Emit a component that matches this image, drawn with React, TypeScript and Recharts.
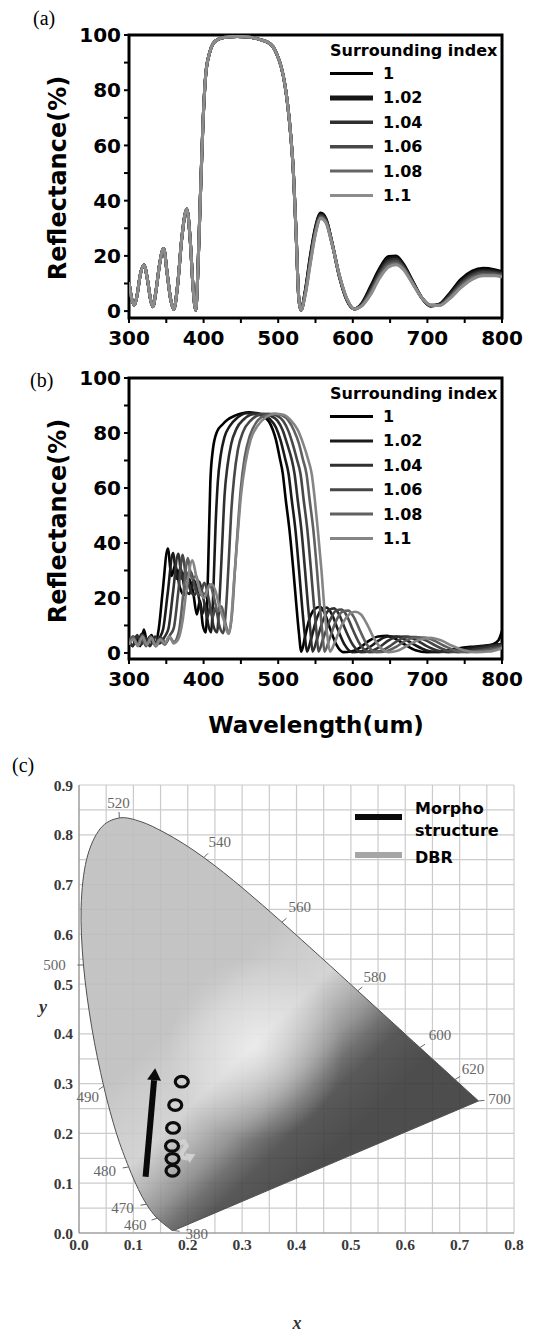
import React from 'react';
import { LineChart, Line, XAxis, YAxis, ReferenceArea, ScatterChart, Scatter, CartesianGrid } from 'recharts';

const SANS = '"DejaVu Sans", Arial, sans-serif';
const SERIF = '"Liberation Serif", "Times New Roman", serif';

const surroundIdx = ['1', '1.02', '1.04', '1.06', '1.08', '1.1'];
const waveTicks = [300, 350, 400, 450, 500, 550, 600, 650, 700, 750, 800];
const reflTicks = [0, 10, 20, 30, 40, 50, 60, 70, 80, 90, 100];

// (a) Morpho structure: left part is the same for every surrounding index
const aLeftX = [300, 304, 307.5, 311, 315, 320, 325, 329, 332, 336, 341, 346.5, 351, 356, 360, 365, 371, 377.5, 382, 386, 389.5, 392, 395, 399, 403, 408, 413, 420, 430, 445, 460, 475, 485, 493, 499, 504, 509, 513, 517, 520, 524, 527.5, 530.5];
const aLeftY = [10.5, 4, 2.2, 6, 13, 16.7, 11, 4, 1.6, 7, 17, 22.7, 14, 4, 0.6, 9, 27, 37, 26, 8, 0.3, 12, 36, 67, 86, 93.5, 97, 98.5, 99.2, 99.5, 99.3, 98.4, 97.5, 95.8, 92.5, 88.5, 82, 74, 63, 52, 28, 5, 0.3];
const aRightX = [536, 543, 550, 557, 564, 572, 582, 592, 602, 612, 624, 636, 648, 658, 668, 680, 692, 704, 716, 730, 745, 760, 775, 790, 800];
const aRight100 = [7, 20, 30.5, 35.5, 33.5, 25, 12.5, 4, 0.8, 2.8, 9, 15.5, 19.8, 20, 17, 11, 5, 1.8, 2.5, 6.5, 11.5, 14.5, 15.5, 15, 14.3];
const aRight102 = [6.7, 19.4, 30, 35.1, 33.2, 24.9, 12.6, 4.1, 0.8, 2.6, 8.4, 14.8, 19.1, 19.4, 16.6, 10.8, 5, 1.9, 2.4, 6.1, 10.9, 13.9, 14.9, 14.6, 13.9];
const aRight104 = [6.4, 18.8, 29.5, 34.7, 32.9, 24.8, 12.7, 4.2, 0.8, 2.4, 7.8, 14.1, 18.3, 18.8, 16.2, 10.6, 5, 2, 2.3, 5.7, 10.3, 13.3, 14.4, 14.1, 13.5];
const aRight106 = [6.1, 18.2, 29, 34.3, 32.6, 24.7, 12.8, 4.3, 0.8, 2.2, 7.2, 13.4, 17.5, 18.1, 15.8, 10.4, 5, 2.1, 2.2, 5.3, 9.7, 12.7, 13.9, 13.6, 13.1];
const aRight108 = [5.8, 17.6, 28.5, 33.9, 32.3, 24.6, 12.9, 4.4, 0.8, 2, 6.6, 12.7, 16.7, 17.4, 15.4, 10.2, 5, 2.15, 2.1, 4.9, 9.1, 12.1, 13.3, 13.2, 12.7];
const aRight110 = [5.5, 17, 28, 33.5, 32, 24.5, 13, 4.5, 0.8, 1.8, 6, 12, 16, 16.8, 15, 10, 5, 2.2, 2, 4.5, 8.5, 11.5, 12.8, 12.8, 12.3];

// (b) DBR: [wavelength, reflectance]
const b100 = [[300,4.5],[305,2.5],[310,6],[315,2.5],[320,8.5],[325,3],[330,6.5],[335,3.5],[340,9],[345,22],[352,38],[357,28],[362,32],[368,24],[374,21],[380,27],[386,22],[391,14],[395,19],[399,10],[403,7.5],[406,30],[409,62],[412,73],[418,80.5],[425,83],[432,84.8],[442,86.3],[452,87.2],[461,87.5],[470,87],[480,86],[488,84],[493,81],[497,77.5],[502,71],[506,65.5],[510,56],[515,45],[520,31],[524,18.5],[527.5,8],[531,0.5],[536,6],[542,12.5],[549,16],[556,16.8],[563,14],[570,8.5],[578,3],[587,0.3],[598,0.5],[610,2],[622,4.5],[634,6],[646,6.2],[658,5],[670,3],[684,1],[700,0.3],[718,0.6],[738,1.5],[758,2.2],[775,2.6],[788,3.2],[795,4.5],[800,8]];
const b102 = [[300,3.5],[306,6],[311,3],[317,7],[322,3],[328,6],[334,3.5],[341,5.5],[346,9],[352,22],[359,36.3],[364,27],[369,31],[375,23],[381,21.5],[387,26.5],[393,21],[398,14],[402,18],[406,10.5],[410,7.5],[413,22],[416,46],[419,62],[423,72],[428,78.5],[435,82.5],[445,85.5],[457,87.2],[468,87.3],[479,86.6],[489,85],[497,82],[503,77.5],[509,71],[514,65],[518,56],[523,45],[528,30],[532,17],[535.5,7],[538.5,0.5],[544,5],[551,12],[558,15.8],[565,16.5],[572,14],[580,8.5],[589,3],[599,0.3],[611,0.6],[623,2.2],[635,4.6],[647,6],[659,6],[671,4.8],[684,2.8],[698,1],[714,0.3],[733,0.7],[753,1.6],[773,2.4],[790,3],[800,3.2]];
const b104 = [[300,5],[305,2.5],[311,6.5],[316,3],[322,5.5],[328,2.5],[335,6],[341,3.5],[348,6],[353,9],[359,22],[366,36.1],[371,27],[376,30],[382,23],[388,21],[394,26],[400,19.5],[405,13],[409,17],[413,10],[418,7.5],[421,18],[425,40],[428,57],[432,68],[437,76],[444,81.5],[454,85],[466,86.8],[478,87],[489,86.3],[499,84.5],[506,81],[512,76],[518,70.5],[522,65],[526,56],[531,45],[536,30],[540,17],[543.5,7],[546,0.5],[552,5],[560,11.8],[568,15.6],[575,16.2],[582,13.8],[590,8.5],[600,3],[611,0.3],[623,0.6],[636,2.2],[648,4.6],[660,5.9],[672,6],[684,4.8],[697,2.8],[712,1],[728,0.3],[748,0.7],[768,1.6],[788,2.5],[800,3]];
const b106 = [[300,3],[306,5.5],[312,3],[318,6.5],[324,3],[330,5],[336,2.5],[343,5.5],[349,3.5],[355,6.5],[360,9],[366,22],[372,35.7],[377,27],[383,29.5],[389,23],[395,21],[401,25.5],[407,19.5],[412,13],[416,16.5],[421,10],[426,7.2],[430,16],[434,35],[437,51],[441,64],[446,74],[453,80.5],[463,84.5],[475,86.6],[487,87],[498,86.3],[507,84.3],[514,80.5],[520,75.5],[525,70.5],[530,65],[534,56],[539,45],[544,30],[548,17],[551.5,7],[554,0.5],[560,5],[569,11.6],[577,15.3],[585,15.8],[592,13.5],[600,8.5],[610,3],[622,0.3],[635,0.6],[648,2.2],[661,4.6],[673,5.8],[685,5.8],[697,4.7],[710,2.8],[725,1],[741,0.3],[762,0.7],[782,1.5],[800,2.5]];
const b108 = [[300,4],[305,6],[311,3],[317,5.5],[323,2.5],[329,6],[335,3],[341,5],[348,3],[354,6],[360,4],[367,8],[373,22],[379,34.5],[384,27],[390,28],[396,22],[402,21.5],[408,25],[414,20],[419,15],[424,17],[429,11],[434,7],[438,14],[442,30],[446,46],[450,60],[455,71],[462,79],[471,84],[483,86.4],[495,87],[505,86.4],[514,84.4],[521,81],[528,76],[533,70.5],[538,65],[542,56],[547,45],[552,30],[556,16.5],[559.5,6.5],[562,0.5],[568,4.5],[577,11.3],[586,15],[594,15.4],[601,13.2],[609,8.5],[619,3],[632,0.3],[645,0.6],[658,2.2],[671,4.5],[684,5.6],[696,5.6],[708,4.6],[721,2.8],[736,1],[753,0.3],[776,0.8],[800,2]];
const b110 = [[300,3],[306,5],[312,2.5],[318,6],[324,3],[330,5.5],[336,2.5],[342,5],[348,3.5],[354,6],[360,3.5],[366,5],[372,12],[378,25],[385,33.7],[390,28],[396,22],[401,20],[406,23.5],[411,25],[416,22.5],[421,17],[427,12],[433,7],[437,12],[441,27],[446,44],[450,57],[456,69],[463,77.5],[472,82.5],[484,85.8],[496,87],[507,86.6],[517,84.6],[526,81.2],[533,76.5],[540,70.5],[545,65],[549,56],[553,45],[558,30],[562,16],[566,6],[569.5,0.5],[576,4],[585,10],[595,14],[603,15],[611,14],[619,10.5],[629,5],[639,1.5],[648,0.3],[660,0.8],[674,2.8],[689,4.8],[704,5.5],[718,4.6],[733,2.6],[749,1],[765,0.3],[782,0.5],[800,1.8]];

// (c) CIE 1931 spectral locus, [wavelength, x, y]
const locus = [
  [380, 0.1741, 0.005], [400, 0.1733, 0.0048], [420, 0.1714, 0.0051], [430, 0.1689, 0.0069], [440, 0.1644, 0.0109],
  [450, 0.1566, 0.0177], [455, 0.151, 0.0227], [460, 0.144, 0.0297], [465, 0.1355, 0.0399], [470, 0.1241, 0.0578],
  [475, 0.1096, 0.0868], [480, 0.0913, 0.1327], [485, 0.0687, 0.2007], [490, 0.0454, 0.295], [495, 0.0235, 0.4127],
  [500, 0.0082, 0.5384], [505, 0.0039, 0.6548], [510, 0.0139, 0.7502], [515, 0.0389, 0.812], [520, 0.0743, 0.8338],
  [525, 0.1142, 0.8262], [530, 0.1547, 0.8059], [535, 0.1929, 0.7816], [540, 0.2296, 0.7543], [545, 0.2658, 0.7243],
  [550, 0.3016, 0.6923], [555, 0.3373, 0.6589], [560, 0.3731, 0.6245], [565, 0.4087, 0.5896], [570, 0.4441, 0.5547],
  [575, 0.4788, 0.5202], [580, 0.5125, 0.4866], [585, 0.5448, 0.4544], [590, 0.5752, 0.4242], [595, 0.6029, 0.3965],
  [600, 0.627, 0.3725], [605, 0.6482, 0.3514], [610, 0.6658, 0.334], [620, 0.6915, 0.3083], [630, 0.7079, 0.292],
  [640, 0.719, 0.2809], [650, 0.726, 0.274], [660, 0.73, 0.27], [680, 0.7334, 0.2666], [700, 0.7347, 0.2653],
];
const locusLabelled = [380, 460, 470, 480, 490, 500, 520, 540, 560, 580, 600, 620, 700];
const morphoX = [0.189, 0.177, 0.173, 0.171, 0.172, 0.172];
const morphoY = [0.304, 0.257, 0.211, 0.175, 0.149, 0.125];
const morphoArrow = [[0.1225, 0.113], [0.14, 0.331]];
const dbrTrail = [[0.183, 0.18], [0.193, 0.184], [0.198, 0.175], [0.19, 0.163], [0.187, 0.153], [0.199, 0.15], [0.214, 0.158]];
const cieTicksX = [0, 0.05, 0.1, 0.15, 0.2, 0.25, 0.3, 0.35, 0.4, 0.45, 0.5, 0.55, 0.6, 0.65, 0.7, 0.75, 0.8];
const cieTicksY = [0, 0.05, 0.1, 0.15, 0.2, 0.25, 0.3, 0.35, 0.4, 0.45, 0.5, 0.55, 0.6, 0.65, 0.7, 0.75, 0.8, 0.85, 0.9];

// styles
const aColors = ['#000000', '#161616', '#2f2f2f', '#484848', '#646464', '#8c8c8c'];
const bColors = ['#000000', '#1a1a1a', '#303030', '#474747', '#606060', '#858585'];
const aLegendWidth = [3, 5, 3.5, 3.5, 3, 3];
const waveLabelOffset: Record<number, [number, number]> = {
  520: [-1, -15], 540: [16, -16], 560: [18, -15], 580: [17, -14], 600: [20, -13], 620: [18, -11], 700: [21, -2],
  500: [-29, 0], 490: [-16, 11], 480: [-24, 4], 470: [-24, 4], 460: [-22, 7], 380: [23, 3],
};

const aSeries = [aRight100, aRight102, aRight104, aRight106, aRight108, aRight110].map((right) => [
  ...aLeftX.map((x, i) => ({ x, y: aLeftY[i] })),
  ...aRightX.map((x, i) => ({ x, y: right[i] })),
]);
const bSeries = [b100, b102, b104, b106, b108, b110].map((s) => s.map(([x, y]) => ({ x, y })));
const locusPts = locus.map(([wl, x, y]) => ({ wl, x, y }));
const locusMarks = locusPts.filter((p) => locusLabelled.includes(p.wl));
const morphoPts = morphoX.map((x, i) => ({ x, y: morphoY[i] }));
const morphoArrowPts = morphoArrow.map(([x, y]) => ({ x, y }));
const dbrPts = dbrTrail.map(([x, y]) => ({ x, y }));

const hundreds = (v: number) => (v % 100 === 0 ? String(v) : '');
const twenties = (v: number) => (v % 20 === 0 ? String(v) : '');
const tenths = (v: number) => {
  const k = Math.round(v * 100);
  return k % 10 === 0 ? (k / 100).toFixed(1) : '';
};
const noMark = () => <g />;

const tickStyle = { fill: '#000', fontSize: 20, fontWeight: 700, fontFamily: SANS };
const cieTick = { fill: '#3a3a3a', fontSize: 15.5, fontWeight: 700, fontFamily: SERIF };

function smoothPath(pts: { x: number; y: number }[]) {
  let d = `M${pts[0].x},${pts[0].y}`;
  for (let i = 0; i < pts.length - 1; i++) {
    const p0 = pts[i - 1] || pts[i];
    const p1 = pts[i];
    const p2 = pts[i + 1];
    const p3 = pts[i + 2] || p2;
    const c1x = p1.x + (p2.x - p0.x) / 6;
    const c1y = p1.y + (p2.y - p0.y) / 6;
    const c2x = p2.x - (p3.x - p1.x) / 6;
    const c2y = p2.y - (p3.y - p1.y) / 6;
    d += ` C${c1x},${c1y} ${c2x},${c2y} ${p2.x},${p2.y}`;
  }
  return d + ' Z';
}

function LocusFill(props: any) {
  const pts = props.points || [];
  if (pts.length < 3) return null;
  const d = smoothPath(pts);
  return (
    <g>
      <path d={d} fill="url(#cieShade)" fillOpacity={0.9} stroke="none" />
      <path d={d} fill="url(#cieGlow)" stroke="#505050" strokeWidth={1} />
    </g>
  );
}

function ArrowPath(props: any) {
  const pts = props.points || [];
  if (pts.length < 2) return null;
  const a = pts[pts.length - 2];
  const b = pts[pts.length - 1];
  const len = Math.hypot(b.x - a.x, b.y - a.y) || 1;
  const ux = (b.x - a.x) / len;
  const uy = (b.y - a.y) / len;
  const h = props.head;
  const hw = props.head * 0.58;
  const bx = b.x - ux * h;
  const by = b.y - uy * h;
  const d = pts.slice(0, -1).map((p: any, i: number) => `${i ? 'L' : 'M'}${p.x},${p.y}`).join(' ') + ` L${bx},${by}`;
  return (
    <g opacity={props.alpha ?? 1}>
      <path d={d} fill="none" stroke={props.paint} strokeWidth={props.weight} strokeLinejoin="round" />
      <path d={`M${b.x},${b.y} L${bx - uy * hw},${by + ux * hw} L${bx + uy * hw},${by - ux * hw} Z`} fill={props.paint} />
    </g>
  );
}

function WaveMark(props: any) {
  const { cx, cy, payload } = props;
  const off = waveLabelOffset[payload?.wl];
  if (!off || cx == null) return <g />;
  const [dx, dy] = off;
  const len = Math.hypot(dx, dy);
  return (
    <g>
      <line x1={cx} y1={cy} x2={cx + (dx / len) * 6} y2={cy + (dy / len) * 6} stroke="#666" strokeWidth={1} />
      <text x={cx + dx} y={cy + dy} textAnchor="middle" dominantBaseline="central" fontFamily={SERIF} fontSize={15} fill="#666">
        {payload.wl}
      </text>
    </g>
  );
}

function Ring(props: any) {
  const { cx, cy } = props;
  if (cx == null) return <g />;
  return <ellipse cx={cx} cy={cy} rx={6.5} ry={5.3} fill="none" stroke="#0d0d0d" strokeWidth={3.2} />;
}

function IndexLegend({ left, top, colors, widths }: { left: number; top: number; colors: string[]; widths: number[] }) {
  return (
    <g transform={`translate(${left},${top})`}>
      <text x={0} y={0} dominantBaseline="central" fontFamily={SANS} fontWeight={700} fontSize={16} fill="#000">
        Surrounding index
      </text>
      {surroundIdx.map((lab, i) => {
        const y = 23.5 + i * 24.4;
        return (
          <g key={lab}>
            <line x1={0} x2={43} y1={y} y2={y} stroke={colors[i]} strokeWidth={widths[i]} />
            <text x={53} y={y} dominantBaseline="central" fontFamily={SANS} fontWeight={700} fontSize={16} fill="#000">
              {lab}
            </text>
          </g>
        );
      })}
    </g>
  );
}

function ReflPanel({ series, colors, lineWidth, yMin }: { series: { x: number; y: number }[][]; colors: string[]; lineWidth: number; yMin: number }) {
  return (
    <>
      <XAxis
        type="number"
        dataKey="x"
        domain={[300, 800]}
        ticks={waveTicks}
        interval={0}
        tickFormatter={hundreds}
        height={42}
        axisLine={false}
        tickLine={{ stroke: '#000', strokeWidth: 2 }}
        tickSize={5}
        tickMargin={8}
        tick={tickStyle}
        allowDataOverflow
      />
      <YAxis
        type="number"
        domain={[yMin, 100]}
        ticks={reflTicks}
        interval={0}
        tickFormatter={twenties}
        width={129}
        axisLine={false}
        tickLine={{ stroke: '#000', strokeWidth: 2 }}
        tickSize={5}
        tickMargin={3}
        tick={tickStyle}
        allowDataOverflow
      />
      <ReferenceArea x1={300} x2={800} y1={yMin} y2={100} fill="none" stroke="#000" strokeWidth={3} ifOverflow="visible" />
      {series.map((d, i) => (
        <Line
          key={surroundIdx[i]}
          data={d}
          dataKey="y"
          type="monotone"
          stroke={colors[i]}
          strokeWidth={lineWidth}
          dot={false}
          activeDot={false}
          isAnimationActive={false}
        />
      ))}
    </>
  );
}

export default function App() {
  return (
    <div style={{ position: 'absolute', left: 0, top: 0, width: 535, height: 1333, background: '#fff' }}>
      <div style={{ position: 'absolute', left: 0, top: 0 }}>
        <LineChart width={535} height={360} margin={{ top: 35, right: 33, bottom: 0, left: 0 }}>
          {ReflPanel({ series: aSeries, colors: aColors, lineWidth: 3, yMin: -2.5 })}
        </LineChart>
      </div>
      <div style={{ position: 'absolute', left: 0, top: 360 }}>
        <LineChart width={535} height={341} margin={{ top: 18, right: 33, bottom: 0, left: 0 }}>
          {ReflPanel({ series: bSeries, colors: bColors, lineWidth: 2.6, yMin: -2.2 })}
        </LineChart>
      </div>
      <div style={{ position: 'absolute', left: 0, top: 750 }}>
        <ScatterChart width={535} height={583} margin={{ top: 35, right: 21, bottom: 0, left: 0 }}>
          <defs>
            <linearGradient id="cieShade" x1="0.337" y1="0.403" x2="0.678" y2="0.765">
              <stop offset="0" stopColor="#bebebe" />
              <stop offset="0.12" stopColor="#c6c6c6" />
              <stop offset="0.35" stopColor="#cfcfcf" />
              <stop offset="0.5" stopColor="#a8a8a8" />
              <stop offset="0.6" stopColor="#8a8a8a" />
              <stop offset="0.7" stopColor="#626262" />
              <stop offset="0.8" stopColor="#474747" />
              <stop offset="1" stopColor="#3a3a3a" />
            </linearGradient>
            <radialGradient id="cieGlow" cx="0.44" cy="0.56" r="0.22">
              <stop offset="0" stopColor="#ffffff" stopOpacity={0.55} />
              <stop offset="1" stopColor="#ffffff" stopOpacity={0} />
            </radialGradient>
          </defs>
          <CartesianGrid stroke="#cbcbcb" strokeWidth={1.2} />
          <XAxis
            type="number"
            dataKey="x"
            domain={[0, 0.8]}
            ticks={cieTicksX}
            interval={0}
            tickFormatter={tenths}
            height={100}
            axisLine={{ stroke: '#8a8a8a' }}
            tickLine={false}
            tickSize={0}
            tickMargin={6}
            tick={cieTick}
          />
          <YAxis
            type="number"
            dataKey="y"
            domain={[0, 0.9]}
            ticks={cieTicksY}
            interval={0}
            tickFormatter={tenths}
            width={79}
            axisLine={{ stroke: '#8a8a8a' }}
            tickLine={false}
            tickSize={0}
            tickMargin={6}
            tick={cieTick}
          />
          <Scatter data={locusPts} shape={noMark} line={<LocusFill />} legendType="none" isAnimationActive={false} />
          <Scatter data={locusMarks} shape={(p: any) => <WaveMark {...p} />} legendType="none" isAnimationActive={false} />
          <Scatter data={dbrPts} shape={noMark} line={<ArrowPath paint="#d0d0d0" weight={4.5} head={9} alpha={1} />} legendType="none" isAnimationActive={false} />
          <Scatter data={morphoArrowPts} shape={noMark} line={<ArrowPath paint="#0a0a0a" weight={6} head={12} />} legendType="none" isAnimationActive={false} />
          <Scatter data={morphoPts} shape={(p: any) => <Ring {...p} />} legendType="none" isAnimationActive={false} />
        </ScatterChart>
      </div>
      <svg width={535} height={1333} style={{ position: 'absolute', left: 0, top: 0, pointerEvents: 'none' }}>
        <text x={33} y={25} fontFamily={SERIF} fontSize={20} fill="#000">(a)</text>
        <text x={30} y={387} fontFamily={SERIF} fontSize={20} fill="#000">(b)</text>
        <text x={12} y={772} fontFamily={SERIF} fontSize={20} fill="#000">(c)</text>
        <text x={58} y={178} transform="rotate(-90, 58, 178)" textAnchor="middle" dominantBaseline="central" fontFamily={SANS} fontWeight={700} fontSize={24}>
          Reflectance(%)
        </text>
        <text x={58} y={521} transform="rotate(-90, 58, 521)" textAnchor="middle" dominantBaseline="central" fontFamily={SANS} fontWeight={700} fontSize={24}>
          Reflectance(%)
        </text>
        <text x={316} y={725} textAnchor="middle" dominantBaseline="central" fontFamily={SANS} fontWeight={700} fontSize={23}>
          Wavelength(um)
        </text>
        <IndexLegend left={330} top={50} colors={aColors} widths={aLegendWidth} />
        <IndexLegend left={330} top={393} colors={bColors} widths={[3, 3, 3, 3, 3, 3]} />
        <line x1={355} x2={402} y1={817} y2={817} stroke="#0a0a0a" strokeWidth={6} />
        <line x1={355} x2={402} y1={855} y2={855} stroke="#a6a6a6" strokeWidth={6} />
        <text x={415} y={808} dominantBaseline="central" fontFamily={SANS} fontWeight={700} fontSize={16}>Morpho</text>
        <text x={415} y={830} dominantBaseline="central" fontFamily={SANS} fontWeight={700} fontSize={16}>structure</text>
        <text x={415} y={857} dominantBaseline="central" fontFamily={SANS} fontWeight={700} fontSize={16}>DBR</text>
        <text x={297} y={1323} textAnchor="middle" dominantBaseline="central" fontFamily={SERIF} fontStyle="italic" fontWeight={700} fontSize={18} fill="#333">x</text>
        <text x={43} y={1007} textAnchor="middle" dominantBaseline="central" fontFamily={SERIF} fontStyle="italic" fontWeight={700} fontSize={18} fill="#333">y</text>
      </svg>
    </div>
  );
}
